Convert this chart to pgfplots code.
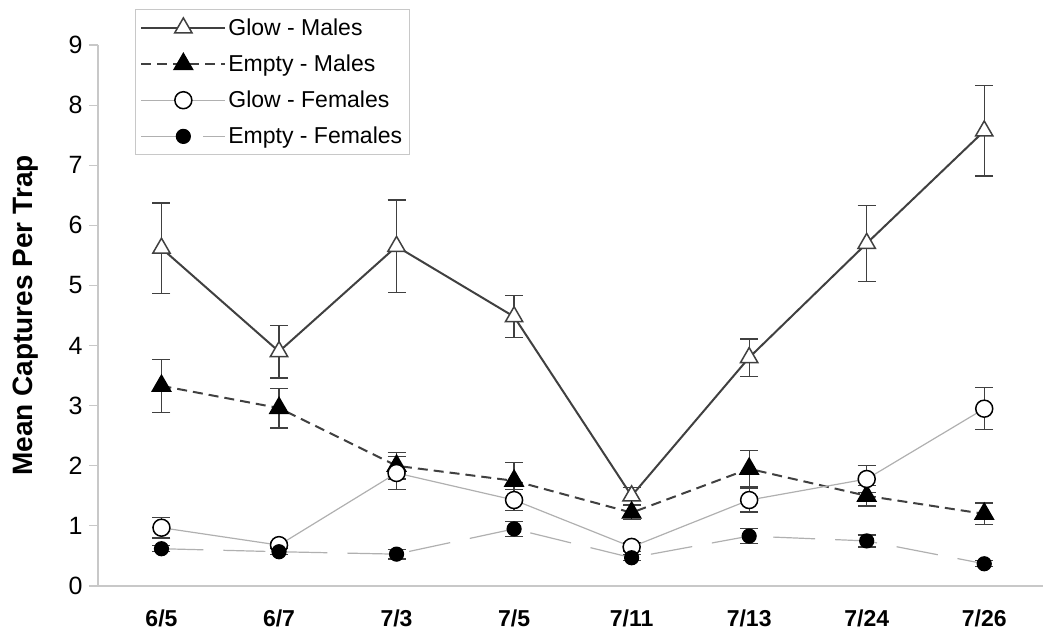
\documentclass[border=0pt]{standalone}
\usepackage{fontspec}
\setmainfont{Liberation Sans}
\usepackage{pgfplots}
\usepackage{pgfplotstable}
\pgfplotsset{compat=1.18}
\pgfplotstableread{
x gm gme em eme gf gfe ef efe
0 5.62 0.75 3.33 0.44 0.97 0.17 0.62 0.05
1 3.90 0.44 2.96 0.33 0.68 0.05 0.57 0.05
2 5.65 0.77 2.00 0.22 1.88 0.27 0.53 0.08
3 4.48 0.35 1.75 0.31 1.43 0.18 0.95 0.12
4 1.50 0.14 1.22 0.12 0.65 0.08 0.47 0.05
5 3.80 0.31 1.95 0.30 1.43 0.20 0.83 0.12
6 5.70 0.63 1.50 0.17 1.78 0.22 0.75 0.10
7 7.57 0.75 1.20 0.18 2.95 0.35 0.37 0.05
}\data
\definecolor{dk}{HTML}{404040}
\definecolor{lt}{HTML}{B0B0B0}
\definecolor{ax}{HTML}{C8C8C8}
\begin{document}
\begin{tikzpicture}[x=1pt,y=1pt]
\useasboundingbox (0,0) rectangle (1049,633);
\begin{axis}[
  at={(98pt,47pt)}, anchor=south west,
  scale only axis, width=945pt, height=541pt,
  xmin=-0.54, xmax=7.5, ymin=0, ymax=9,
  axis x line*=bottom, axis y line*=left,
  axis line style={draw=ax, line width=1.2pt},
  xtick={0,...,7},
  xticklabels={6/5,6/7,7/3,7/5,7/11,7/13,7/24,7/26},
  xtick style={draw=none},
  ytick={0,...,9},
  ytick style={draw=ax, line width=1.2pt},
  tick align=outside, major tick length=9pt,
  yticklabel style={font=\fontsize{25}{28}\selectfont, xshift=-3pt},
  xticklabel style={font=\fontsize{23}{26}\selectfont\bfseries, yshift=-11pt},
  /pgf/number format/assume math mode=true,
  ylabel={Mean Captures Per Trap},
  ylabel style={font=\fontsize{28}{30}\selectfont\bfseries, at={(axis description cs:-0.059,0.5)}, anchor=south},
  clip=false,
  legend style={at={(0.039,1.066)}, anchor=north west, draw=ax, line width=1pt,
    font=\fontsize{23}{25}\selectfont, legend cell align=left,
    row sep=14pt, inner xsep=5pt, inner ysep=7pt,
    /tikz/every even column/.append style={column sep=12pt}},
  every axis plot/.append style={legend image code/.code={
    \draw[mark repeat=2,mark phase=2] plot coordinates {(0pt,0pt)(42pt,0pt)(84pt,0pt)};}},
  error bars/error bar style={draw=dk, line width=1.2pt, solid},
  error bars/error mark options={rotate=90, mark size=9pt, line width=1.2pt, draw=dk, solid},
]
\addplot[draw=dk, line width=2pt, mark=triangle*, mark size=10pt,
  mark options={fill=white, draw=dk, line width=1.5pt, solid},
  error bars/.cd, y dir=both, y explicit]
  table[x=x, y=gm, y error=gme] {\data};
\addlegendentry{Glow - Males}
\addplot[draw=dk, line width=2pt, dash pattern=on 10pt off 6pt, mark=triangle*, mark size=10pt,
  mark options={fill=black, draw=black, solid},
  error bars/.cd, y dir=both, y explicit]
  table[x=x, y=em, y error=eme] {\data};
\addlegendentry{Empty - Males}
\addplot[draw=lt, line width=1.2pt, mark=*, mark size=8.5pt,
  mark options={fill=white, draw=black, line width=1.5pt, solid},
  error bars/.cd, y dir=both, y explicit]
  table[x=x, y=gf, y error=gfe] {\data};
\addlegendentry{Glow - Females}
\addplot[draw=lt, line width=1.2pt, dash pattern=on 42pt off 20pt, mark=*, mark size=7pt,
  mark options={fill=black, draw=black, solid},
  error bars/.cd, y dir=both, y explicit]
  table[x=x, y=ef, y error=efe] {\data};
\addlegendentry{Empty - Females}
\end{axis}
\end{tikzpicture}
\end{document}
